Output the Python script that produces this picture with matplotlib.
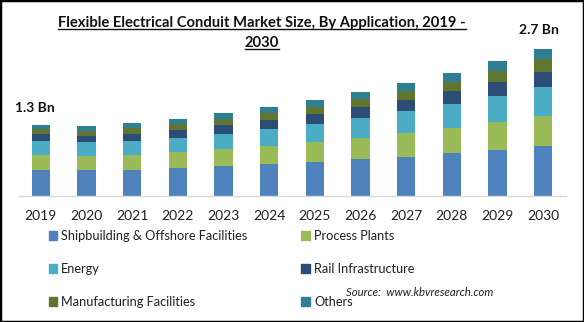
import matplotlib
matplotlib.use("Agg")
import matplotlib.pyplot as plt
from matplotlib.patches import Rectangle
from matplotlib.lines import Line2D
import numpy as np

plt.rcParams["font.family"] = ["Lato", "DejaVu Sans"]

years = ["2019", "2020", "2021", "2022", "2023", "2024",
         "2025", "2026", "2027", "2028", "2029", "2030"]

# segment values, USD Bn
shipbuilding = [0.478, 0.478, 0.478, 0.515, 0.552, 0.589, 0.620, 0.675, 0.718, 0.786, 0.841, 0.914]
process_plants = [0.276, 0.258, 0.276, 0.300, 0.313, 0.331, 0.368, 0.386, 0.436, 0.460, 0.515, 0.552]
energy = [0.258, 0.258, 0.258, 0.258, 0.282, 0.313, 0.331, 0.368, 0.410, 0.442, 0.478, 0.534]
rail = [0.129, 0.110, 0.134, 0.142, 0.160, 0.166, 0.184, 0.202, 0.197, 0.239, 0.258, 0.276]
manufacturing = [0.086, 0.098, 0.105, 0.110, 0.110, 0.134, 0.134, 0.153, 0.171, 0.178, 0.208, 0.245]
others = [0.079, 0.086, 0.092, 0.092, 0.110, 0.110, 0.123, 0.123, 0.142, 0.153, 0.178, 0.178]

series_names = ["Shipbuilding & Offshore Facilities", "Process Plants", "Energy",
                "Rail Infrastructure", "Manufacturing Facilities", "Others"]
series_values = [shipbuilding, process_plants, energy, rail, manufacturing, others]
SERIES_COLORS = ["#4F81BD", "#9BBB59", "#4BACC6", "#2C4D75", "#5F7530", "#2E7F91"]

# value labels shown on first and last bar
label_idx = [0, 11]
label_text = ["1.3 Bn", "2.7 Bn"]

W, H = 584, 322
fig = plt.figure(figsize=(W / 100, H / 100), dpi=100)
ax = fig.add_axes([18 / W, 1 - 196 / H, (566 - 18) / W, (196 - 40) / H])

x = np.arange(len(years))
bottom = np.zeros(len(years))
for name, vals, color in zip(series_names, series_values, SERIES_COLORS):
    ax.bar(x, vals, width=0.4, bottom=bottom, color=color, label=name)
    bottom += np.array(vals)

ax.set_xlim(-0.5, len(years) - 0.5)
ax.set_ylim(0, 156 * 0.0184)
ax.set_xticks(x)
ax.set_xticklabels(years, fontsize=10, color="#202020")
ax.tick_params(axis="x", length=0, pad=10)
ax.set_yticks([])
for s in ["top", "right", "left"]:
    ax.spines[s].set_visible(False)
ax.spines["bottom"].set_color("#D9D9D9")
ax.spines["bottom"].set_linewidth(1.0)

offsets = [(-6, 11), (-4, 13)]
for i, txt, off in zip(label_idx, label_text, offsets):
    ax.annotate(txt, (x[i], bottom[i]), xytext=off, textcoords="offset pixels",
                ha="center", va="bottom", fontsize=10, fontweight="bold", color="#111111")

# title with underline
title_lines = ["Flexible Electrical Conduit Market Size, By Application, 2019 -", "2030"]
title_y = [1 - 23 / H, 1 - 43 / H]
title_objs = []
for t, y in zip(title_lines, title_y):
    title_objs.append(fig.text(262 / W, y, t, ha="center", va="center",
                               fontsize=10.6, fontweight="bold", color="#111111"))
fig.canvas.draw()
renderer = fig.canvas.get_renderer()
for t in title_objs:
    bb = t.get_window_extent(renderer)
    yl = (bb.y0 + 1) / H
    fig.add_artist(Line2D([bb.x0 / W, bb.x1 / W], [yl, yl], color="#111111", linewidth=1.0))

# legend, two columns, filled row by row
order = [0, 2, 4, 1, 3, 5]
handles = [Rectangle((0, 0), 1, 1, color=SERIES_COLORS[k]) for k in order]
labels = [series_names[k] for k in order]
fig.legend(handles, labels, loc="upper left", bbox_to_anchor=(37 / W, 1 - 218 / H),
           ncol=2, frameon=False, fontsize=9.2, handlelength=0.7, handleheight=0.7,
           handletextpad=0.3, columnspacing=4.2, labelspacing=1.65, labelcolor="#202020")

fig.text(420 / W, 1 - 292 / H, "Source:  www.kbvresearch.com", ha="center", va="center",
         fontsize=8.2, style="italic", color="#202020")

# frame around the image
fig.add_artist(Rectangle((0, 0), 1, 1, transform=fig.transFigure, fill=False,
                         edgecolor="black", linewidth=2.5))

fig.savefig("out.png", dpi=100)
